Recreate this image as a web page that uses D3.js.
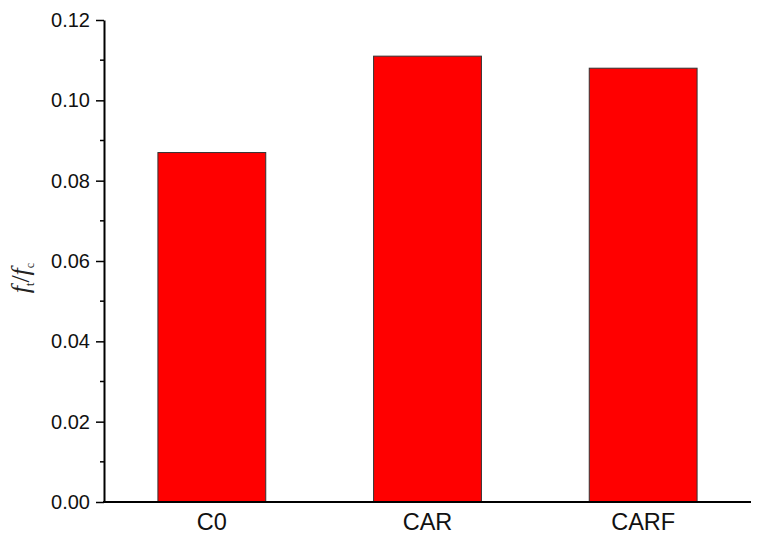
<!DOCTYPE html>
<html>
<head>
<meta charset="utf-8">
<script src="https://cdn.jsdelivr.net/npm/d3@7"></script>
<style>
  body { margin: 0; background: #fff; }
  svg { display: block; }
</style>
</head>
<body>
<svg id="chart" width="758" height="540"></svg>
<script>
"use strict"

let categories = ["C0", "CAR", "CARF"]
let values = [0.087, 0.111, 0.108]
let majorTicks = [0, 0.02, 0.04, 0.06, 0.08, 0.10, 0.12]
let minorTicks = [0.01, 0.03, 0.05, 0.07, 0.09, 0.11]

let svg = d3.select("#chart")
let plotLeft = 104, plotRight = 751, plotTop = 20, plotBottom = 502

let x = d3.scaleBand().domain(categories).range([plotLeft, plotRight])
    .paddingInner(0.5).paddingOuter(0.25)
let y = d3.scaleLinear().domain([0, 0.12]).range([plotBottom, plotTop])

// bars
svg.selectAll("rect.bar")
    .data(values)
    .enter().append("rect")
    .attr("class", "bar")
    .attr("x", function(d, i) { return x(categories[i]) })
    .attr("width", x.bandwidth())
    .attr("y", function(d) { return y(d) })
    .attr("height", function(d) { return y(0) - y(d) })
    .attr("fill", "#ff0000")
    .attr("stroke", "#333")
    .attr("stroke-width", 1)

// y axis with major and minor ticks
let yAxis = d3.axisLeft(y).tickValues(majorTicks)
    .tickFormat(d3.format(".2f")).tickSize(8).tickSizeOuter(0).tickPadding(6)
let gy = svg.append("g").attr("transform", "translate(" + plotLeft + ",0)").call(yAxis)
gy.select(".domain").attr("stroke", "#000").attr("stroke-width", 2)
gy.selectAll(".tick line").attr("stroke", "#000").attr("stroke-width", 1.5)
gy.selectAll(".tick text").attr("font-family", "Arial, 'Liberation Sans', sans-serif")
    .attr("font-size", 20).attr("fill", "#111")

svg.append("g").selectAll("line")
    .data(minorTicks)
    .enter().append("line")
    .attr("x1", plotLeft - 4).attr("x2", plotLeft)
    .attr("y1", function(d) { return y(d) }).attr("y2", function(d) { return y(d) })
    .attr("stroke", "#000").attr("stroke-width", 1.5)

// x axis, no ticks
let xAxis = d3.axisBottom(x).tickSize(0).tickPadding(11)
let gx = svg.append("g").attr("transform", "translate(0," + plotBottom + ")").call(xAxis)
gx.select(".domain").attr("stroke", "#000").attr("stroke-width", 2)
    .attr("d", "M" + (plotLeft - 1) + ",0H" + plotRight)
gx.selectAll(".tick text").attr("font-family", "Arial, 'Liberation Sans', sans-serif")
    .attr("font-size", 23.5).attr("fill", "#111")

// y label f_t/f_c
let lab = svg.append("text")
    .attr("transform", "translate(29,278) rotate(-90)")
    .attr("text-anchor", "middle")
    .attr("font-family", "'Times New Roman', 'Liberation Serif', serif")
    .attr("font-size", 26).attr("fill", "#222")
lab.append("tspan").attr("font-style", "italic").text("f")
lab.append("tspan").attr("font-size", 12).attr("dy", 5).text("t")
lab.append("tspan").attr("dy", -5).text("/")
lab.append("tspan").attr("font-style", "italic").text("f")
lab.append("tspan").attr("font-size", 12).attr("dy", 5).text("c")
</script>
</body>
</html>
